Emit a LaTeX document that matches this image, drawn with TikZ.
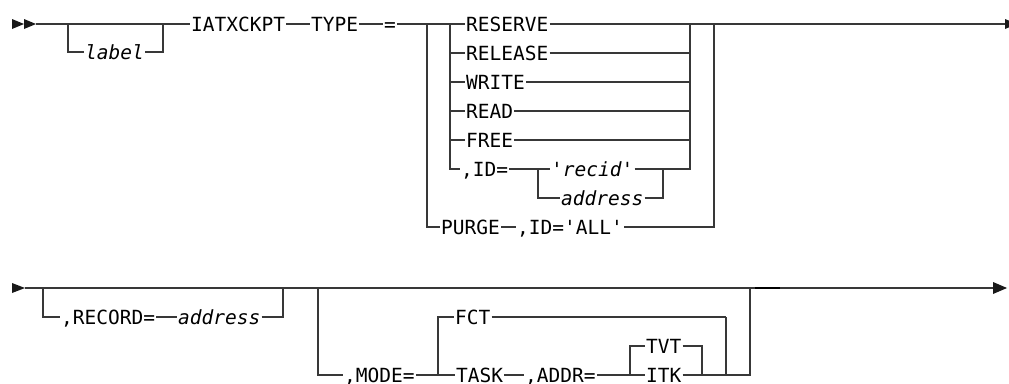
\documentclass[tikz,border=0pt]{standalone}
\usepackage{fontspec}
\newfontfamily\kwfont{DejaVu Sans Mono}
\begin{document}
\begin{tikzpicture}[x=1pt,y=-1pt,
  rr/.style={draw=black!78, line width=1.2pt},
  kw/.style={font=\kwfont\fontsize{19.5}{23}\selectfont, text=black, inner xsep=1pt, inner ysep=0pt,
             text height=14pt, text depth=0pt, anchor=west},
  var/.style={kw, font=\kwfont\itshape\fontsize{19.5}{23}\selectfont},
  tip/.style={fill=black!90}]
\useasboundingbox (0,0) rectangle (1009,383);
\clip (0,0) rectangle (1009,383);

% ---------- row 1 nodes ----------
\node[var] (lab)  at (84,52)  {label};
\node[kw]  (iat)  at (190,24) {IATXCKPT};
\node[kw]  (typ)  at (310,24) {TYPE};
\node[kw]  (eq)   at (383,24) {=};
\node[kw]  (res)  at (465,24) {RESERVE};
\node[kw]  (rel)  at (465,53) {RELEASE};
\node[kw]  (wri)  at (465,82) {WRITE};
\node[kw]  (rea)  at (465,111) {READ};
\node[kw]  (fre)  at (465,140) {FREE};
\node[kw]  (id)   at (460,169) {,ID=};
\node[var] (rec)  at (550,169) {'recid'};
\node[var] (adr1) at (560,198) {address};
\node[kw]  (pur)  at (440,227) {PURGE};
\node[kw]  (ida)  at (516,227) {,ID='ALL'};

% ---------- row 1 junctions ----------
\coordinate (s1) at (36,24);
\coordinate (b1) at (68,24);
\coordinate (b2) at (163,24);
\coordinate (o1) at (427,24);
\coordinate (o2) at (714,24);
\coordinate (i1) at (450,24);
\coordinate (i2) at (690,24);
\coordinate (r1) at (538,169);
\coordinate (r2) at (663,169);
\coordinate (e1) at (1005,24);

% start / end marks row 1
\fill[tip] (12,19) -- (24,24) -- (12,29) -- cycle;
\fill[tip] (24,19) -- (36,24) -- (24,29) -- cycle;
\fill[tip] (1005,19) -- (1017,24) -- (1005,29) -- cycle;

% row 1 connectors
\draw[rr] (s1) -- (iat.west);
\draw[rr] (b1) |- (lab.west);
\draw[rr] (lab.east) -| (b2);
\draw[rr] (iat.east) -- (typ.west);
\draw[rr] (typ.east) -- (eq.west);
\draw[rr] (eq.east) -- (res.west);
\draw[rr] (res.east) -- (e1);
\draw[rr] (o1) |- (pur.west);
\draw[rr] (pur.east) -- (ida.west);
\draw[rr] (ida.east) -| (o2);
\draw[rr] (i1) |- (id.west);
\foreach \n in {rel,wri,rea,fre}{
  \draw[rr] (i1 |- \n.west) -- (\n.west);
  \draw[rr] (\n.east) -- (i2 |- \n.east);
}
\draw[rr] (id.east) -- (r1);
\draw[rr] (r1) -- (rec.west);
\draw[rr] (r1) |- (adr1.west);
\draw[rr] (rec.east) -- (r2);
\draw[rr] (adr1.east) -| (r2);
\draw[rr] (r2) -| (i2);

% ---------- row 2 nodes ----------
\node[kw]  (recd) at (60,317)  {,RECORD=};
\node[var] (adr2) at (177,317) {address};
\node[kw]  (mode) at (343,375) {,MODE=};
\node[kw]  (fct)  at (454,317) {FCT};
\node[kw]  (task) at (455,375) {TASK};
\node[kw]  (addr) at (524,375) {,ADDR=};
\node[kw]  (tvt)  at (645,346) {TVT};
\node[kw]  (itk)  at (645,375) {ITK};

% ---------- row 2 junctions ----------
\coordinate (s2) at (25,288);
\coordinate (e2) at (993,288);
\coordinate (c1) at (43,288);
\coordinate (c2) at (283,288);
\coordinate (d1) at (318,288);
\coordinate (d2) at (750,288);
\coordinate (m1) at (438,375);
\coordinate (m2) at (726,317);
\coordinate (a1) at (630,375);
\coordinate (a2) at (702,375);
\coordinate (k1) at (755,288);
\coordinate (k2) at (780,288);

% start / end marks row 2
\fill[tip] (12,283) -- (25,288) -- (12,293) -- cycle;
\fill[tip] (993,282) -- (1007,288) -- (993,294) -- cycle;

% row 2 connectors
\draw[rr] (s2) -- (e2);
\draw[black, line width=2.2pt] (k1) -- (k2);
\draw[rr] (c1) |- (recd.west);
\draw[rr] (recd.east) -- (adr2.west);
\draw[rr] (adr2.east) -| (c2);
\draw[rr] (d1) |- (mode.west);
\draw[rr] (mode.east) -- (m1);
\draw[rr] (m1) -- (task.west);
\draw[rr] (m1) |- (fct.west);
\draw[rr] (fct.east) -- (m2);
\draw[rr] (task.east) -- (addr.west);
\draw[rr] (addr.east) -- (a1);
\draw[rr] (a1) -- (itk.west);
\draw[rr] (a1) |- (tvt.west);
\draw[rr] (tvt.east) -| (a2);
\draw[rr] (itk.east) -- (a2);
\draw[rr] (a2) -| (m2);
\draw[rr] (m2 |- a2) -| (d2);
\end{tikzpicture}
\end{document}
